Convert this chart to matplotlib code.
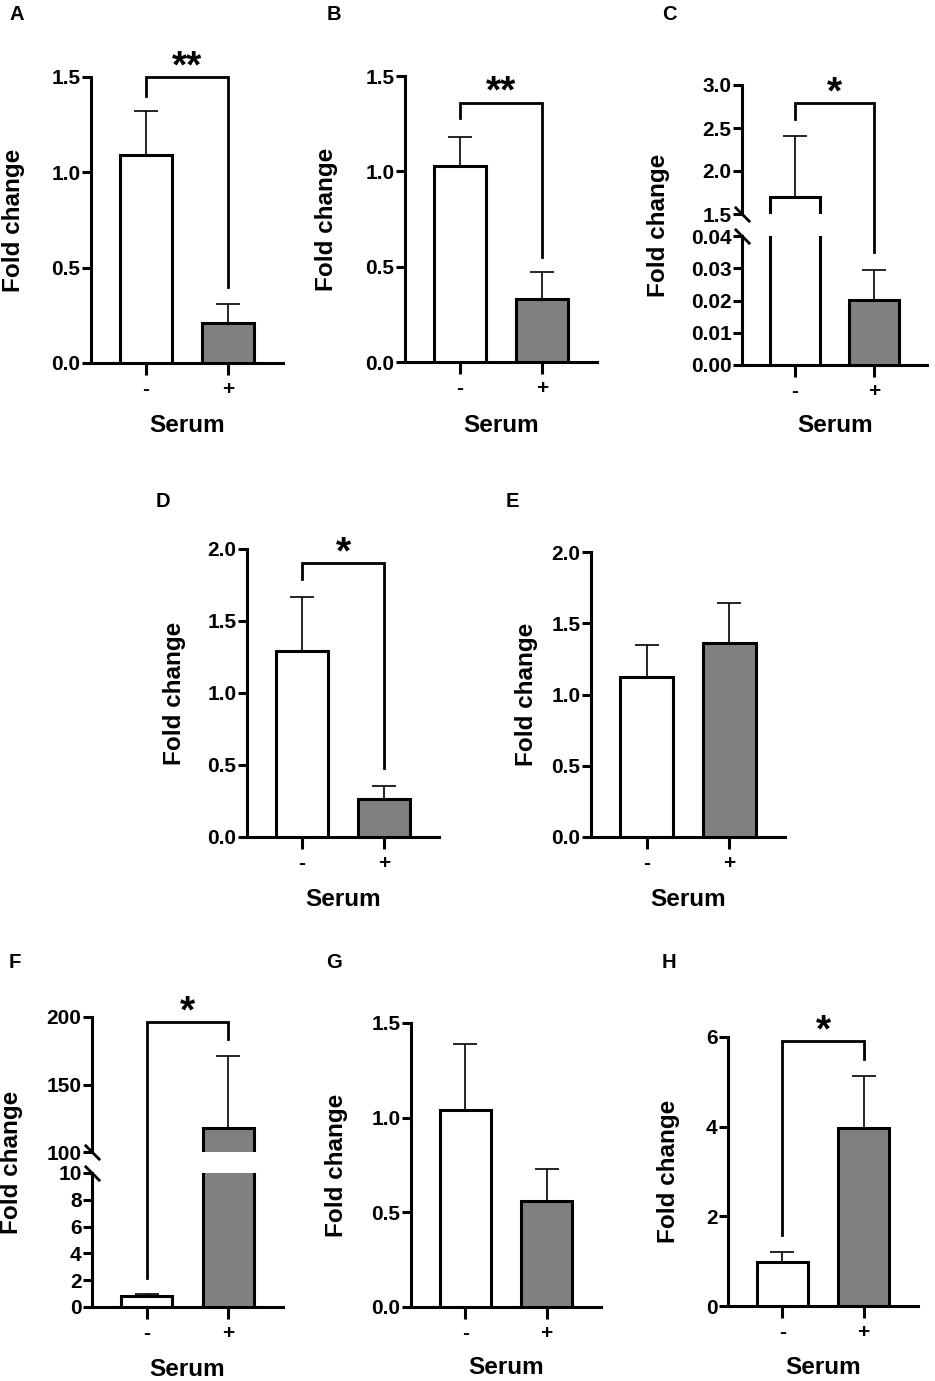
import matplotlib
matplotlib.use('Agg')
import matplotlib.pyplot as plt

plt.rcParams['font.family'] = ['Liberation Sans', 'DejaVu Sans']
plt.rcParams['font.weight'] = 'bold'

W, H = 935, 1381

# group labels on the x axis
groups = ['-', '+']
bar_colors = ['white', '#808080']

# mean fold change and upper error (SEM) for each panel
a_mean = [1.09, 0.21]
a_err = [0.23, 0.10]
b_mean = [1.03, 0.33]
b_err = [0.15, 0.14]
c_mean = [1.70, 0.0202]
c_err = [0.71, 0.0093]
d_mean = [1.29, 0.265]
d_err = [0.38, 0.09]
e_mean = [1.12, 1.36]
e_err = [0.23, 0.28]
f_mean = [0.8, 118]
f_err = [0.2, 53]
g_mean = [1.04, 0.56]
g_err = [0.35, 0.17]
h_mean = [0.98, 3.97]
h_err = [0.22, 1.16]

# significance brackets: [bracket height, left leg end, right leg end]
a_bracket = [1.5, 1.40, 0.40]
b_bracket = [1.36, 1.28, 0.55]
c_bracket = [2.79, 2.60, 0.035]
d_bracket = [1.90, 1.79, 0.48]
f_bracket = [196, 2.2, 184]
h_bracket = [5.91, 1.58, 5.51]

LW = 2.2
TICK_FS = 15
LABEL_FS = 17.5

fig = plt.figure(figsize=(W / 100, H / 100), dpi=100)


def px_axes(x0, y0, x1, y1):
    ax = fig.add_axes([x0 / W, 1 - y1 / H, (x1 - x0) / W, (y1 - y0) / H])
    ax.patch.set_visible(False)  # so lines crossing a break stay visible
    return ax


def style(ax, ylim, yticks, ylabels=None, xaxis=True):
    ax.set_xlim(-0.67, 1.67)
    ax.set_ylim(*ylim)
    for s in ['top', 'right']:
        ax.spines[s].set_visible(False)
    ax.spines['left'].set_linewidth(LW)
    ax.spines['bottom'].set_linewidth(LW)
    ax.set_yticks(yticks)
    if ylabels is not None:
        ax.set_yticklabels(ylabels)
    ax.tick_params(axis='y', length=6.5, width=LW, pad=1, labelsize=TICK_FS)
    if xaxis:
        ax.set_xticks([0, 1])
        ax.set_xticklabels(groups)
        ax.tick_params(axis='x', length=8.6, width=LW, pad=3.5, labelsize=TICK_FS)
    else:
        ax.spines['bottom'].set_visible(False)
        ax.set_xticks([])


def draw_bars(ax, mean, err):
    ax.bar([0, 1], mean, width=0.63, color=bar_colors, edgecolor='black',
           linewidth=LW, zorder=3)
    ax.errorbar([0, 1], mean, yerr=[[0, 0], err], fmt='none', ecolor='black',
                elinewidth=1.2, capsize=8.3, capthick=1.2, zorder=2)


def draw_bracket(ax, br, star, left_ax=None, right_ax=None):
    y, yl, yr = br
    # legs that end in the other part of a broken axis
    if left_ax is not None:
        pt = left_ax.transData.transform((0, yl))
        yl = ax.transData.inverted().transform(pt)[1]
    if right_ax is not None:
        pt = right_ax.transData.transform((1, yr))
        yr = ax.transData.inverted().transform(pt)[1]
    ax.plot([0, 0, 1, 1], [yl, y, y, yr], color='black', lw=2.0,
            clip_on=False, zorder=4, solid_joinstyle='miter')
    ax.text(0.5, y, star, ha='center', va='baseline', fontsize=28,
            fontweight='bold', clip_on=False)


def break_mark(ax, ypos):
    ax.plot([0], [ypos], transform=ax.transAxes, marker=[(-1, 1), (1, -1)],
            markersize=11, markeredgewidth=2.0, color='black', clip_on=False,
            linestyle='none', zorder=5)


def labels(letter, lx, ly, ycx, ycy, sx, sy):
    fig.text(lx / W, 1 - ly / H, letter, fontsize=14.5, fontweight='bold',
             ha='left', va='top')
    fig.text(ycx / W, 1 - ycy / H, 'Fold change', fontsize=LABEL_FS,
             fontweight='bold', rotation=90, ha='center', va='center')
    fig.text(sx / W, 1 - sy / H, 'Serum', fontsize=LABEL_FS,
             fontweight='bold', ha='center', va='center')


# A
ax = px_axes(91, 77, 283, 363)
style(ax, (0, 1.5), [0, 0.5, 1.0, 1.5], ['0.0', '0.5', '1.0', '1.5'])
draw_bars(ax, a_mean, a_err)
draw_bracket(ax, a_bracket, '**')
labels('A', 9, 5, 14, 220, 187, 425)

# B
ax = px_axes(405, 76, 597, 362)
style(ax, (0, 1.5), [0, 0.5, 1.0, 1.5], ['0.0', '0.5', '1.0', '1.5'])
draw_bars(ax, b_mean, b_err)
draw_bracket(ax, b_bracket, '**')
labels('B', 327, 5, 326, 219, 501, 426)

# C (broken axis)
ax_c_top = px_axes(742, 85, 927, 214)
ax_c_bot = px_axes(742, 236, 927, 365)
style(ax_c_top, (1.5, 3.0), [1.5, 2.0, 2.5, 3.0], ['1.5', '2.0', '2.5', '3.0'],
      xaxis=False)
style(ax_c_bot, (0, 0.04), [0, 0.01, 0.02, 0.03, 0.04],
      ['0.00', '0.01', '0.02', '0.03', '0.04'])
draw_bars(ax_c_top, c_mean, c_err)
draw_bars(ax_c_bot, c_mean, c_err)
break_mark(ax_c_top, 0)
break_mark(ax_c_bot, 1)
draw_bracket(ax_c_top, c_bracket, '*', right_ax=ax_c_bot)
labels('C', 662, 5, 658, 225, 835, 426)

# D
ax = px_axes(247, 549, 439, 837)
style(ax, (0, 2.0), [0, 0.5, 1.0, 1.5, 2.0], ['0.0', '0.5', '1.0', '1.5', '2.0'])
draw_bars(ax, d_mean, d_err)
draw_bracket(ax, d_bracket, '*')
labels('D', 156, 492, 174, 693, 343, 899)

# E
ax = px_axes(591, 552, 785, 837)
style(ax, (0, 2.0), [0, 0.5, 1.0, 1.5, 2.0], ['0.0', '0.5', '1.0', '1.5', '2.0'])
draw_bars(ax, e_mean, e_err)
labels('E', 506, 492, 526, 694, 688, 899)

# F (broken axis)
ax_f_top = px_axes(92, 1017, 283, 1152)
ax_f_bot = px_axes(92, 1173, 283, 1307)
style(ax_f_top, (100, 200), [100, 150, 200], xaxis=False)
style(ax_f_bot, (0, 10), [0, 2, 4, 6, 8, 10])
draw_bars(ax_f_top, f_mean, f_err)
draw_bars(ax_f_bot, f_mean, f_err)
break_mark(ax_f_top, 0)
break_mark(ax_f_bot, 1)
draw_bracket(ax_f_top, f_bracket, '*', left_ax=ax_f_bot)
labels('F', 9, 953, 12, 1162, 187, 1369)

# G
ax = px_axes(411, 1023, 601, 1307)
style(ax, (0, 1.5), [0, 0.5, 1.0, 1.5], ['0.0', '0.5', '1.0', '1.5'])
draw_bars(ax, g_mean, g_err)
labels('G', 326, 953, 336, 1165, 506, 1368)

# H
ax = px_axes(728, 1037, 918, 1306)
style(ax, (0, 6), [0, 2, 4, 6])
draw_bars(ax, h_mean, h_err)
draw_bracket(ax, h_bracket, '*')
labels('H', 662, 953, 669, 1171, 823, 1367)

fig.savefig('out.png', dpi=100)
